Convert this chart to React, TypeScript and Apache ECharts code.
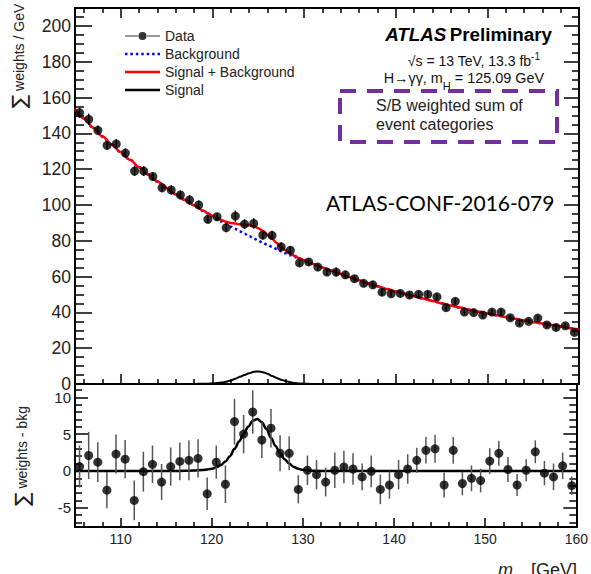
import React, { useEffect, useRef } from 'react';
import * as echarts from 'echarts';

// ---- data ----
const binMass = [105.5, 106.5, 107.5, 108.5, 109.5, 110.5, 111.5, 112.5, 113.5, 114.5, 115.5, 116.5, 117.5, 118.5, 119.5, 120.5, 121.5, 122.5, 123.5, 124.5, 125.5, 126.5, 127.5, 128.5, 129.5, 130.5, 131.5, 132.5, 133.5, 134.5, 135.5, 136.5, 137.5, 138.5, 139.5, 140.5, 141.5, 142.5, 143.5, 144.5, 145.5, 146.5, 147.5, 148.5, 149.5, 150.5, 151.5, 152.5, 153.5, 154.5, 155.5, 156.5, 157.5, 158.5, 159.5];
const dataWeights = [151.5, 147.8, 141.7, 133.3, 134.1, 129.0, 118.9, 118.9, 115.9, 109.6, 108.4, 105.6, 102.8, 100.0, 92.0, 93.4, 87.3, 93.8, 89.3, 89.7, 83.1, 83.0, 76.6, 74.7, 67.6, 68.2, 65.3, 62.5, 62.5, 61.0, 58.8, 56.2, 55.4, 51.3, 50.4, 50.6, 49.7, 50.1, 50.1, 48.7, 42.6, 46.2, 40.2, 39.9, 38.5, 40.2, 40.2, 37.0, 34.0, 35.0, 36.8, 33.0, 31.6, 32.5, 28.8];
const dataMinusBkg = [0.6, 2.1, 1.2, -2.6, 2.3, 1.6, -4.0, -0.1, 0.9, -1.5, 0.6, 1.3, 1.45, 1.7, -3.1, 1.2, -1.8, 6.7, 5.0, 8.0, 4.2, 5.8, 2.4, 2.4, -2.5, 0.1, -0.5, -1.5, 0.1, 0.55, 0.27, -0.8, -0.05, -2.5, -1.9, -0.5, 0.27, 1.45, 2.8, 3.0, -1.9, 2.8, -1.7, -1.0, -1.3, 1.35, 2.4, 0.2, -1.9, 0.1, 2.6, -0.3, -0.8, 0.7, -2.0];
const dataErrors = [2.85, 3.2, 2.7, 2.45, 2.65, 2.6, 2.7, 2.7, 2.55, 2.45, 2.6, 2.55, 2.7, 2.6, 2.2, 2.25, 2.55, 3.1, 2.6, 2.95, 2.45, 2.6, 2.45, 2.3, 1.9, 2.0, 2.0, 1.95, 2.4, 2.2, 2.15, 1.8, 2.15, 2.0, 1.85, 2.0, 2.0, 1.7, 1.8, 1.9, 1.7, 1.8, 1.6, 1.75, 1.6, 1.75, 1.7, 1.7, 1.5, 1.5, 1.55, 1.65, 1.8, 1.8, 1.25];

const curveMass = [105, 106, 107, 108, 109, 110, 111, 112, 113, 114, 115, 116, 117, 118, 119, 119.5, 120, 120.5, 121, 121.5, 122, 122.5, 123, 123.5, 124, 124.5, 125, 125.5, 126, 126.5, 127, 127.5, 128, 128.5, 129, 129.5, 130, 130.5, 131, 132, 133, 134, 135, 136, 137, 138, 139, 140, 141, 142, 143, 144, 145, 146, 147, 148, 149, 150, 151, 152, 153, 154, 155, 156, 157, 158, 159, 160];
const bkgCurve = [153.5, 148.3, 143.1, 138.2, 133.8, 129.5, 125.2, 121.0, 117.0, 113.1, 109.5, 106.0, 102.8, 99.8, 96.7, 95.2, 93.7, 92.2, 90.7, 89.3, 87.9, 86.6, 85.2, 83.9, 82.6, 81.3, 80.0, 78.8, 77.7, 76.6, 75.4, 74.2, 73.0, 71.9, 70.9, 69.9, 68.9, 67.9, 67.0, 65.1, 63.2, 61.4, 59.6, 57.9, 56.2, 54.6, 53.1, 51.7, 50.3, 49.0, 47.7, 46.4, 45.1, 43.9, 42.7, 41.5, 40.4, 39.4, 38.4, 37.4, 36.4, 35.5, 34.6, 33.8, 33.0, 32.2, 31.2, 30.3];
const sigCurve = [0, 0, 0, 0, 0, 0, 0, 0, 0, 0, 0, 0, 0.02, 0.05, 0.12, 0.2, 0.3, 0.5, 0.8, 1.3, 2.0, 3.0, 4.0, 5.0, 6.0, 6.8, 7.05, 6.6, 5.7, 4.5, 3.4, 2.4, 1.6, 1.0, 0.55, 0.3, 0.15, 0.08, 0.04, 0.01, 0, 0, 0, 0, 0, 0, 0, 0, 0, 0, 0, 0, 0, 0, 0, 0, 0, 0, 0, 0, 0, 0, 0, 0, 0, 0, 0, 0];

const FONT = '"Liberation Sans", Arial, Helvetica, sans-serif';

const pairs = (xs: number[], ys: number[]) => xs.map((x, i) => [x, ys[i]]);

function errRender(color: string) {
  return (_p: any, api: any) => {
    const x = api.value(0);
    const y = api.value(1);
    const e = api.value(2);
    const a = api.coord([x, y - e]);
    const b = api.coord([x, y + e]);
    return {
      type: 'line',
      shape: { x1: a[0], y1: a[1], x2: b[0], y2: b[1] },
      style: { stroke: color, lineWidth: 1.5 },
    };
  };
}

function xAx(gridIndex: number, position: 'top' | 'bottom', labels: boolean, major: number, minor: number) {
  return {
    type: 'value',
    gridIndex,
    position,
    min: 105,
    max: 160,
    splitNumber: 5,
    axisLine: { show: true, onZero: false, lineStyle: { color: '#000', width: 2 } },
    axisTick: { show: major > 0, inside: true, length: major, lineStyle: { color: '#000', width: 1.5 } },
    minorTick: { show: minor > 0, splitNumber: 5, length: minor, lineStyle: { color: '#000', width: 1.5 } },
    splitLine: { show: false },
    axisLabel: labels
      ? { show: true, showMinLabel: false, color: '#222', fontSize: 14, fontFamily: FONT, margin: 5 }
      : { show: false },
  };
}

function yAx(gridIndex: number, position: 'left' | 'right', labelSize: number, cfg: any, major: number, minor: number, minorSplit: number) {
  return {
    type: 'value',
    gridIndex,
    position,
    ...cfg,
    axisLine: { show: true, onZero: false, lineStyle: { color: '#000', width: 2 } },
    axisTick: { show: true, inside: true, length: major, lineStyle: { color: '#000', width: 1.5 } },
    minorTick: { show: true, splitNumber: minorSplit, length: minor, lineStyle: { color: '#000', width: 1.5 } },
    splitLine: { show: false },
    axisLabel: labelSize > 0
      ? {
          show: true,
          color: '#222',
          fontSize: labelSize,
          lineHeight: labelSize - 5,
          fontFamily: FONT,
          margin: 4,
          showMinLabel: cfg.min === 0,
          showMaxLabel: false,
        }
      : { show: false },
  };
}

const topY = { min: 0, max: 210, interval: 20 };
const botY = { min: -7.6, max: 11.8, splitNumber: 4 };

const dottedIcon = 'path://M0,4H2.5V6.5H0Z M5.5,4H8V6.5H5.5Z M11,4H13.5V6.5H11Z M16.5,4H19V6.5H16.5Z M22,4H24.5V6.5H22Z M27.5,4H30V6.5H27.5Z M33,4H35.5V6.5H33Z';
const solidIcon = 'path://M0,3.9H35V6.3H0Z';
const dataIcon = 'path://M0,4.4H13V5.6H0Z M22,4.4H35V5.6H22Z M13.5,5A4,4,0,1,0,21.5,5A4,4,0,1,0,13.5,5Z';

const option: any = {
  animation: false,
  backgroundColor: '#fff',
  textStyle: { fontFamily: FONT },
  grid: [
    { left: 75, top: 8, width: 504, height: 376, containLabel: false },
    { left: 75, top: 384, width: 504, height: 143, containLabel: false },
  ],
  xAxis: [
    xAx(0, 'bottom', false, 10, 5),
    xAx(0, 'top', false, 10, 5),
    xAx(1, 'bottom', true, 9, 5),
    xAx(1, 'top', false, 0, 0),
  ],
  yAxis: [
    yAx(0, 'left', 17.5, topY, 17, 9, 4),
    yAx(0, 'right', 0, topY, 15, 7, 4),
    yAx(1, 'left', 15, botY, 13, 7, 5),
    yAx(1, 'right', 0, botY, 13, 7, 5),
  ],
  legend: {
    orient: 'vertical',
    left: 120,
    top: 24,
    itemWidth: 35,
    itemHeight: 10,
    itemGap: 4,
    selectedMode: false,
    textStyle: { fontSize: 14, fontFamily: FONT, color: '#222', lineHeight: 14 },
    data: [
      { name: 'Data', icon: dataIcon },
      { name: 'Background', icon: dottedIcon },
      { name: 'Signal + Background', icon: solidIcon },
      { name: 'Signal', icon: solidIcon },
    ],
  },
  series: [
    {
      name: 'Signal',
      type: 'line',
      xAxisIndex: 0,
      yAxisIndex: 0,
      data: pairs(curveMass, sigCurve),
      smooth: 0.35,
      smoothMonotone: 'x',
      symbol: 'none',
      itemStyle: { color: '#000' },
      lineStyle: { color: '#000', width: 2 },
      z: 3,
    },
    {
      name: 'Background',
      type: 'line',
      xAxisIndex: 0,
      yAxisIndex: 0,
      data: pairs(curveMass, bkgCurve),
      smooth: 0.35,
      smoothMonotone: 'x',
      symbol: 'none',
      itemStyle: { color: '#0000ff' },
      lineStyle: { color: '#0000ff', width: 2.5, type: [2.5, 3] },
      z: 3,
    },
    {
      name: 'Signal + Background',
      type: 'line',
      xAxisIndex: 0,
      yAxisIndex: 0,
      data: curveMass.map((m, i) => [m, bkgCurve[i] + sigCurve[i]]),
      smooth: 0.35,
      smoothMonotone: 'x',
      symbol: 'none',
      itemStyle: { color: '#ff0000' },
      lineStyle: { color: '#ff0000', width: 2.5 },
      z: 4,
    },
    {
      name: 'DataErr',
      type: 'custom',
      xAxisIndex: 0,
      yAxisIndex: 0,
      renderItem: errRender('#000'),
      data: binMass.map((m, i) => [m, dataWeights[i], dataErrors[i]]),
      encode: { x: 0, y: 1 },
      z: 5,
    },
    {
      name: 'Data',
      type: 'scatter',
      xAxisIndex: 0,
      yAxisIndex: 0,
      data: pairs(binMass, dataWeights),
      symbol: 'circle',
      symbolSize: 9,
      itemStyle: { color: '#000' },
      z: 6,
    },
    {
      name: 'Signal (residual panel)',
      type: 'line',
      xAxisIndex: 2,
      yAxisIndex: 2,
      data: pairs(curveMass, sigCurve),
      smooth: 0.35,
      smoothMonotone: 'x',
      symbol: 'none',
      itemStyle: { color: '#000' },
      lineStyle: { color: '#000', width: 2.5 },
      z: 3,
    },
    {
      name: 'ResErr',
      type: 'custom',
      xAxisIndex: 2,
      yAxisIndex: 2,
      renderItem: errRender('#555'),
      data: binMass.map((m, i) => [m, dataMinusBkg[i], dataErrors[i]]),
      encode: { x: 0, y: 1 },
      z: 5,
    },
    {
      name: 'Data - bkg',
      type: 'scatter',
      xAxisIndex: 2,
      yAxisIndex: 2,
      data: pairs(binMass, dataMinusBkg),
      symbol: 'circle',
      symbolSize: 9,
      itemStyle: { color: '#000' },
      z: 6,
    },
  ],
  graphic: [
    {
      type: 'text',
      x: 552,
      y: 34,
      style: {
        text: '{a|ATLAS} {b|Preliminary}',
        align: 'right',
        verticalAlign: 'middle',
        rich: {
          a: { fontSize: 18.8, fontWeight: 'bold', fontStyle: 'italic', fontFamily: FONT, fill: '#000' },
          b: { fontSize: 18.8, fontWeight: 'bold', fontFamily: FONT, fill: '#000' },
        },
      },
    },
    {
      type: 'text',
      x: 540,
      y: 61,
      style: {
        text: '√s = 13 TeV, 13.3 fb{sup|-1}',
        align: 'right',
        verticalAlign: 'middle',
        fontSize: 14,
        fontFamily: FONT,
        fill: '#111',
        rich: { sup: { fontSize: 10, fontFamily: FONT, fill: '#111', padding: [0, 0, 9, 0] } },
      },
    },
    {
      type: 'text',
      x: 544,
      y: 78,
      style: {
        text: 'H→γγ, m{sub|H} = 125.09 GeV',
        align: 'right',
        verticalAlign: 'middle',
        fontSize: 14.4,
        fontFamily: FONT,
        fill: '#111',
        rich: { sub: { fontSize: 11, fontFamily: FONT, fill: '#111', padding: [16, 0, 0, 0] } },
      },
    },
    {
      type: 'rect',
      shape: { x: 340, y: 91, width: 217, height: 51 },
      style: { fill: 'none', stroke: '#7030a0', lineWidth: 4, lineDash: [16, 11] },
    },
    {
      type: 'text',
      x: 376,
      y: 105,
      style: { text: 'S/B weighted sum of', verticalAlign: 'middle', fontSize: 16, fontFamily: FONT, fill: '#222' },
    },
    {
      type: 'text',
      x: 376,
      y: 124,
      style: { text: 'event categories', verticalAlign: 'middle', fontSize: 16, fontFamily: FONT, fill: '#222' },
    },
    {
      type: 'text',
      x: 326,
      y: 202,
      style: {
        text: 'ATLAS-CONF-2016-079',
        verticalAlign: 'middle',
        fontSize: 21,
        fontFamily: 'Lato, "Open Sans", sans-serif',
        fill: '#000',
      },
    },
    {
      type: 'text',
      x: 19,
      y: 56,
      rotation: Math.PI / 2,
      style: {
        text: '{s|∑} weights / GeV',
        align: 'center',
        verticalAlign: 'middle',
        fontSize: 14,
        fontFamily: FONT,
        fill: '#222',
        rich: { s: { fontSize: 20, fontFamily: 'DejaVu Sans', fill: '#222' } },
      },
    },
    {
      type: 'text',
      x: 22,
      y: 456,
      rotation: Math.PI / 2,
      style: {
        text: '{s|∑} weights - bkg',
        align: 'center',
        verticalAlign: 'middle',
        fontSize: 14,
        fontFamily: FONT,
        fill: '#222',
        rich: { s: { fontSize: 20, fontFamily: 'DejaVu Sans', fill: '#222' } },
      },
    },
    {
      type: 'text',
      x: 498,
      y: 556,
      style: {
        text: '{m|m}{g|γγ} [GeV]',
        fontSize: 18,
        fontFamily: FONT,
        fill: '#222',
        rich: {
          m: { fontSize: 18, fontStyle: 'italic', fontFamily: FONT, fill: '#222' },
          g: { fontSize: 13, fontFamily: FONT, fill: '#222', padding: [14, 0, 0, 0] },
        },
      },
    },
  ],
};

export default function App() {
  const ref = useRef<HTMLDivElement>(null);
  useEffect(() => {
    if (!ref.current) return;
    const chart = echarts.init(ref.current, null, { renderer: 'svg' });
    chart.setOption(option);
    return () => chart.dispose();
  }, []);
  return (
    <div
      ref={ref}
      style={{ position: 'absolute', left: 0, top: 0, width: 591, height: 574, background: '#fff' }}
    />
  );
}
